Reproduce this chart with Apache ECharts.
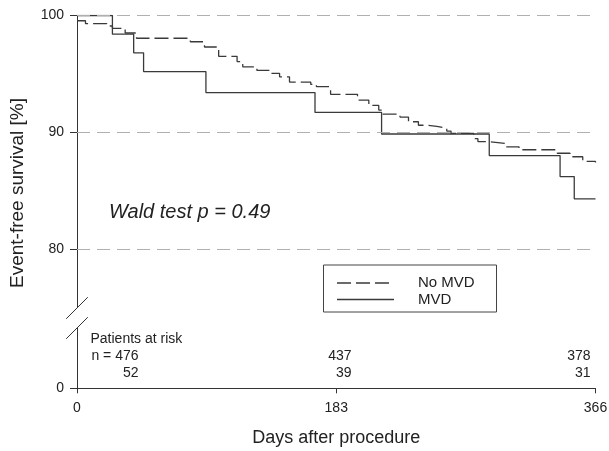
<!DOCTYPE html>
<html>
<head>
<meta charset="utf-8">
<script src="https://cdn.jsdelivr.net/npm/echarts@6/dist/echarts.min.js"></script>
<style>
html,body{margin:0;padding:0;background:#fff;}
#c{width:609px;height:451px;}
</style>
</head>
<body>
<div id="c"></div>
<script>
// ---- data ----
const noMvdDays = [0,6,21,25,34,42,80,90,100,113,117,127,136,143,150,165,169,179,198,206,213,216,228,234,241,247,254,261,264,280,283,291,302,312,339,348,357,366];
const noMvdSurv = [99.55,99.3,99.1,98.9,98.5,98.05,97.75,97.3,96.5,96.05,95.6,95.3,95.05,94.75,94.3,94.1,93.9,93.25,92.75,92.3,91.9,91.55,91.3,90.9,90.6,90.5,90.35,90.1,89.9,89.45,89.2,89.05,88.75,88.5,88.2,87.9,87.5,87.4];
const mvdDays = [0,25,40,47,91,168,215,291,341,351,366];
const mvdSurv = [100,98.4,96.8,95.2,93.4,91.7,89.85,88.0,86.2,84.3,84.3];
const xTicks = [0,183,366];
const yTicks = [0,80,90,100];
const gridValues = [80,90,100];
const riskNoMvd = ['n = 476','437','378'];
const riskMvd = ['52','39','31'];
const seriesNames = ['No MVD','MVD'];

// broken axis: 0 is drawn at AXIS_MIN (below the break)
const AXIS_MIN = 68.07;
const toAxis = v => (v === 0 ? AXIS_MIN : v);

const FONT = 'Liberation Sans, Arial, sans-serif';
const LINE_COLOR = '#3a3a3a';
const TEXT_COLOR = '#222';

const chart = echarts.init(document.getElementById('c'), null, {renderer:'canvas'});
const zip = (a,b) => a.map((d,i)=>[d,b[i]]);

chart.setOption({
  animation:false,
  backgroundColor:'#fff',
  textStyle:{fontFamily:FONT},
  grid:{left:77, right:13.5, top:15.5, bottom:62.7, containLabel:false, outerBoundsMode:'none'},
  xAxis:{
    type:'value', min:0, max:366,
    name:'Days after procedure', nameLocation:'middle', nameGap:41,
    nameTextStyle:{fontSize:18, color:TEXT_COLOR, fontFamily:FONT},
    axisLine:{lineStyle:{color:'#333', width:1}},
    axisTick:{show:true, length:5, customValues:xTicks, lineStyle:{color:'#333'}},
    axisLabel:{customValues:xTicks, fontSize:14, color:TEXT_COLOR, margin:13, fontFamily:FONT},
    splitLine:{show:false}
  },
  yAxis:{
    type:'value', min:AXIS_MIN, max:100,
    axisLine:{show:true, lineStyle:{color:'#333', width:1}},
    axisTick:{show:true, length:7, customValues:yTicks.map(toAxis), lineStyle:{color:'#333'}},
    axisLabel:{customValues:yTicks.map(toAxis), fontSize:14, color:TEXT_COLOR, margin:13, fontFamily:FONT,
      formatter:v => (v < 70 ? '0' : String(Math.round(v)))},
    splitLine:{show:false}
  },
  series:[
    {
      name:'grid', type:'line', data:[], z:1, silent:true,
      markLine:{
        silent:true, symbol:'none', label:{show:false},
        lineStyle:{color:'#b0b0b0', type:[13,7], width:1},
        data:gridValues.map(v=>({yAxis:v}))
      }
    },
    {
      name:seriesNames[0], type:'line', step:'end', symbol:'none', z:3,
      data:zip(noMvdDays,noMvdSurv),
      lineStyle:{color:LINE_COLOR, width:1.3, type:[14,5]}
    },
    {
      name:seriesNames[1], type:'line', step:'end', symbol:'none', z:3,
      data:zip(mvdDays,mvdSurv),
      lineStyle:{color:LINE_COLOR, width:1.3, type:'solid'}
    }
  ]
});

// ---- annotations ----
const ax = chart.convertToPixel({gridIndex:0}, [0, 80])[0];
const breakY1 = 308, breakY2 = 328, h = 10.8;
const riskRightX = [138.5, 351.5, 590.5];
const txt = (x,y,t,align,size) => ({
  type:'text', x:x, y:y, z:11,
  style:{text:t, fontSize:size||14, fill:TEXT_COLOR, fontFamily:FONT, align:align||'left', verticalAlign:'middle'}
});

const legendBox = {x:323.5, y:265, w:173, h:47};
const elements = [
  // axis break
  {type:'polygon', shape:{points:[[ax-5,breakY1+5],[ax+5,breakY1-5],[ax+5,breakY2-5],[ax-5,breakY2+5]]}, style:{fill:'#fff'}, z:10},
  {type:'line', shape:{x1:ax-h, y1:breakY1+h, x2:ax+h, y2:breakY1-h}, style:{stroke:'#333', lineWidth:1}, z:11},
  {type:'line', shape:{x1:ax-h, y1:breakY2+h, x2:ax+h, y2:breakY2-h}, style:{stroke:'#333', lineWidth:1}, z:11},
  // y axis title
  {type:'text', x:18, y:193, rotation:Math.PI/2, z:11,
    style:{text:'Event-free survival [%]', fontSize:19, fill:TEXT_COLOR, fontFamily:FONT, align:'center', verticalAlign:'middle'}},
  // test annotation
  {type:'text', x:109, y:212, z:11,
    style:{text:'Wald test p = 0.49', fontSize:20, fontStyle:'italic', fill:TEXT_COLOR, fontFamily:FONT, verticalAlign:'middle'}},
  // legend
  {type:'rect', shape:{x:legendBox.x, y:legendBox.y, width:legendBox.w, height:legendBox.h}, style:{fill:'#fff', stroke:'#444', lineWidth:1}, z:10},
  {type:'line', shape:{x1:337, y1:283, x2:394, y2:283}, style:{stroke:LINE_COLOR, lineWidth:1.3, lineDash:[14,5]}, z:11},
  {type:'line', shape:{x1:337, y1:299.5, x2:394, y2:299.5}, style:{stroke:LINE_COLOR, lineWidth:1.3}, z:11},
  txt(418, 283, seriesNames[0], 'left', 15),
  txt(418, 299.5, seriesNames[1], 'left', 15),
  // numbers at risk
  txt(90.5, 339.5, 'Patients at risk', 'left')
];
riskNoMvd.forEach((t,i)=>elements.push(txt(riskRightX[i], 356.5, t, 'right')));
riskMvd.forEach((t,i)=>elements.push(txt(riskRightX[i], 373, t, 'right')));
chart.setOption({graphic:{elements:elements}});
</script>
</body>
</html>
